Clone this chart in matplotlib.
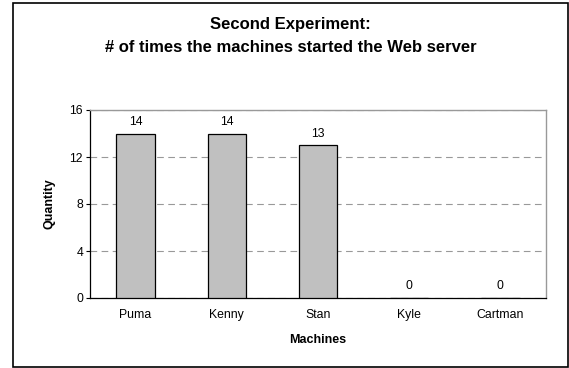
import matplotlib
matplotlib.use("Agg")
import matplotlib.pyplot as plt
from matplotlib.patches import Rectangle

plt.rcParams['font.family'] = ['Liberation Sans', 'DejaVu Sans']

machines = ['Puma', 'Kenny', 'Stan', 'Kyle', 'Cartman']
counts = [14, 14, 13, 0, 0]
yticks = [0, 4, 8, 12, 16]

W, H = 569, 368
fig = plt.figure(figsize=(W / 100, H / 100), dpi=100)
ax = fig.add_axes([90 / W, 1 - 298 / H, (546 - 90) / W, (298 - 110) / H])

# outer chart border
fig.patches.append(Rectangle((13 / W, 1 - 367 / H), (568 - 13) / W, (367 - 3) / H,
                             transform=fig.transFigure, fill=False,
                             edgecolor='black', linewidth=1.2))

x = range(len(machines))
bars = ax.bar(x, counts, width=0.42, color='#c0c0c0', edgecolor='black',
              linewidth=0.9, zorder=3)
for xi, v in zip(x, counts):
    ax.annotate(str(v), (xi, v), xytext=(0, 4), textcoords='offset points',
                ha='center', va='bottom', fontsize=8.8)

ax.set_xlim(-0.5, len(machines) - 0.5)
ax.set_ylim(0, 16)
ax.set_yticks(yticks)
ax.set_xticks(list(x))
ax.set_xticklabels(machines)
ax.tick_params(axis='both', labelsize=8.8, length=3, width=0.8)
ax.tick_params(axis='x', length=0, pad=8)
ax.tick_params(axis='y', pad=2)

ax.yaxis.grid(True, linestyle=(0, (6, 4)), color='#999999', linewidth=0.8, zorder=0)
ax.set_axisbelow(True)

for side in ['top', 'right']:
    ax.spines[side].set_color('#999999')
    ax.spines[side].set_linewidth(1.0)
for side in ['left', 'bottom']:
    ax.spines[side].set_color('black')
    ax.spines[side].set_linewidth(0.9)

ax.set_ylabel('Quantity', fontsize=9, fontweight='bold', labelpad=10)
ax.set_xlabel('Machines', fontsize=9, fontweight='bold', labelpad=9)

fig.text(0.5 * (13 + 568) / W, 1 - 25 / H, 'Second Experiment:',
         ha='center', va='center', fontsize=12, fontweight='bold')
fig.text(0.5 * (13 + 568) / W, 1 - 48 / H, '# of times the machines started the Web server',
         ha='center', va='center', fontsize=12, fontweight='bold')

fig.savefig('out.png', dpi=100)
